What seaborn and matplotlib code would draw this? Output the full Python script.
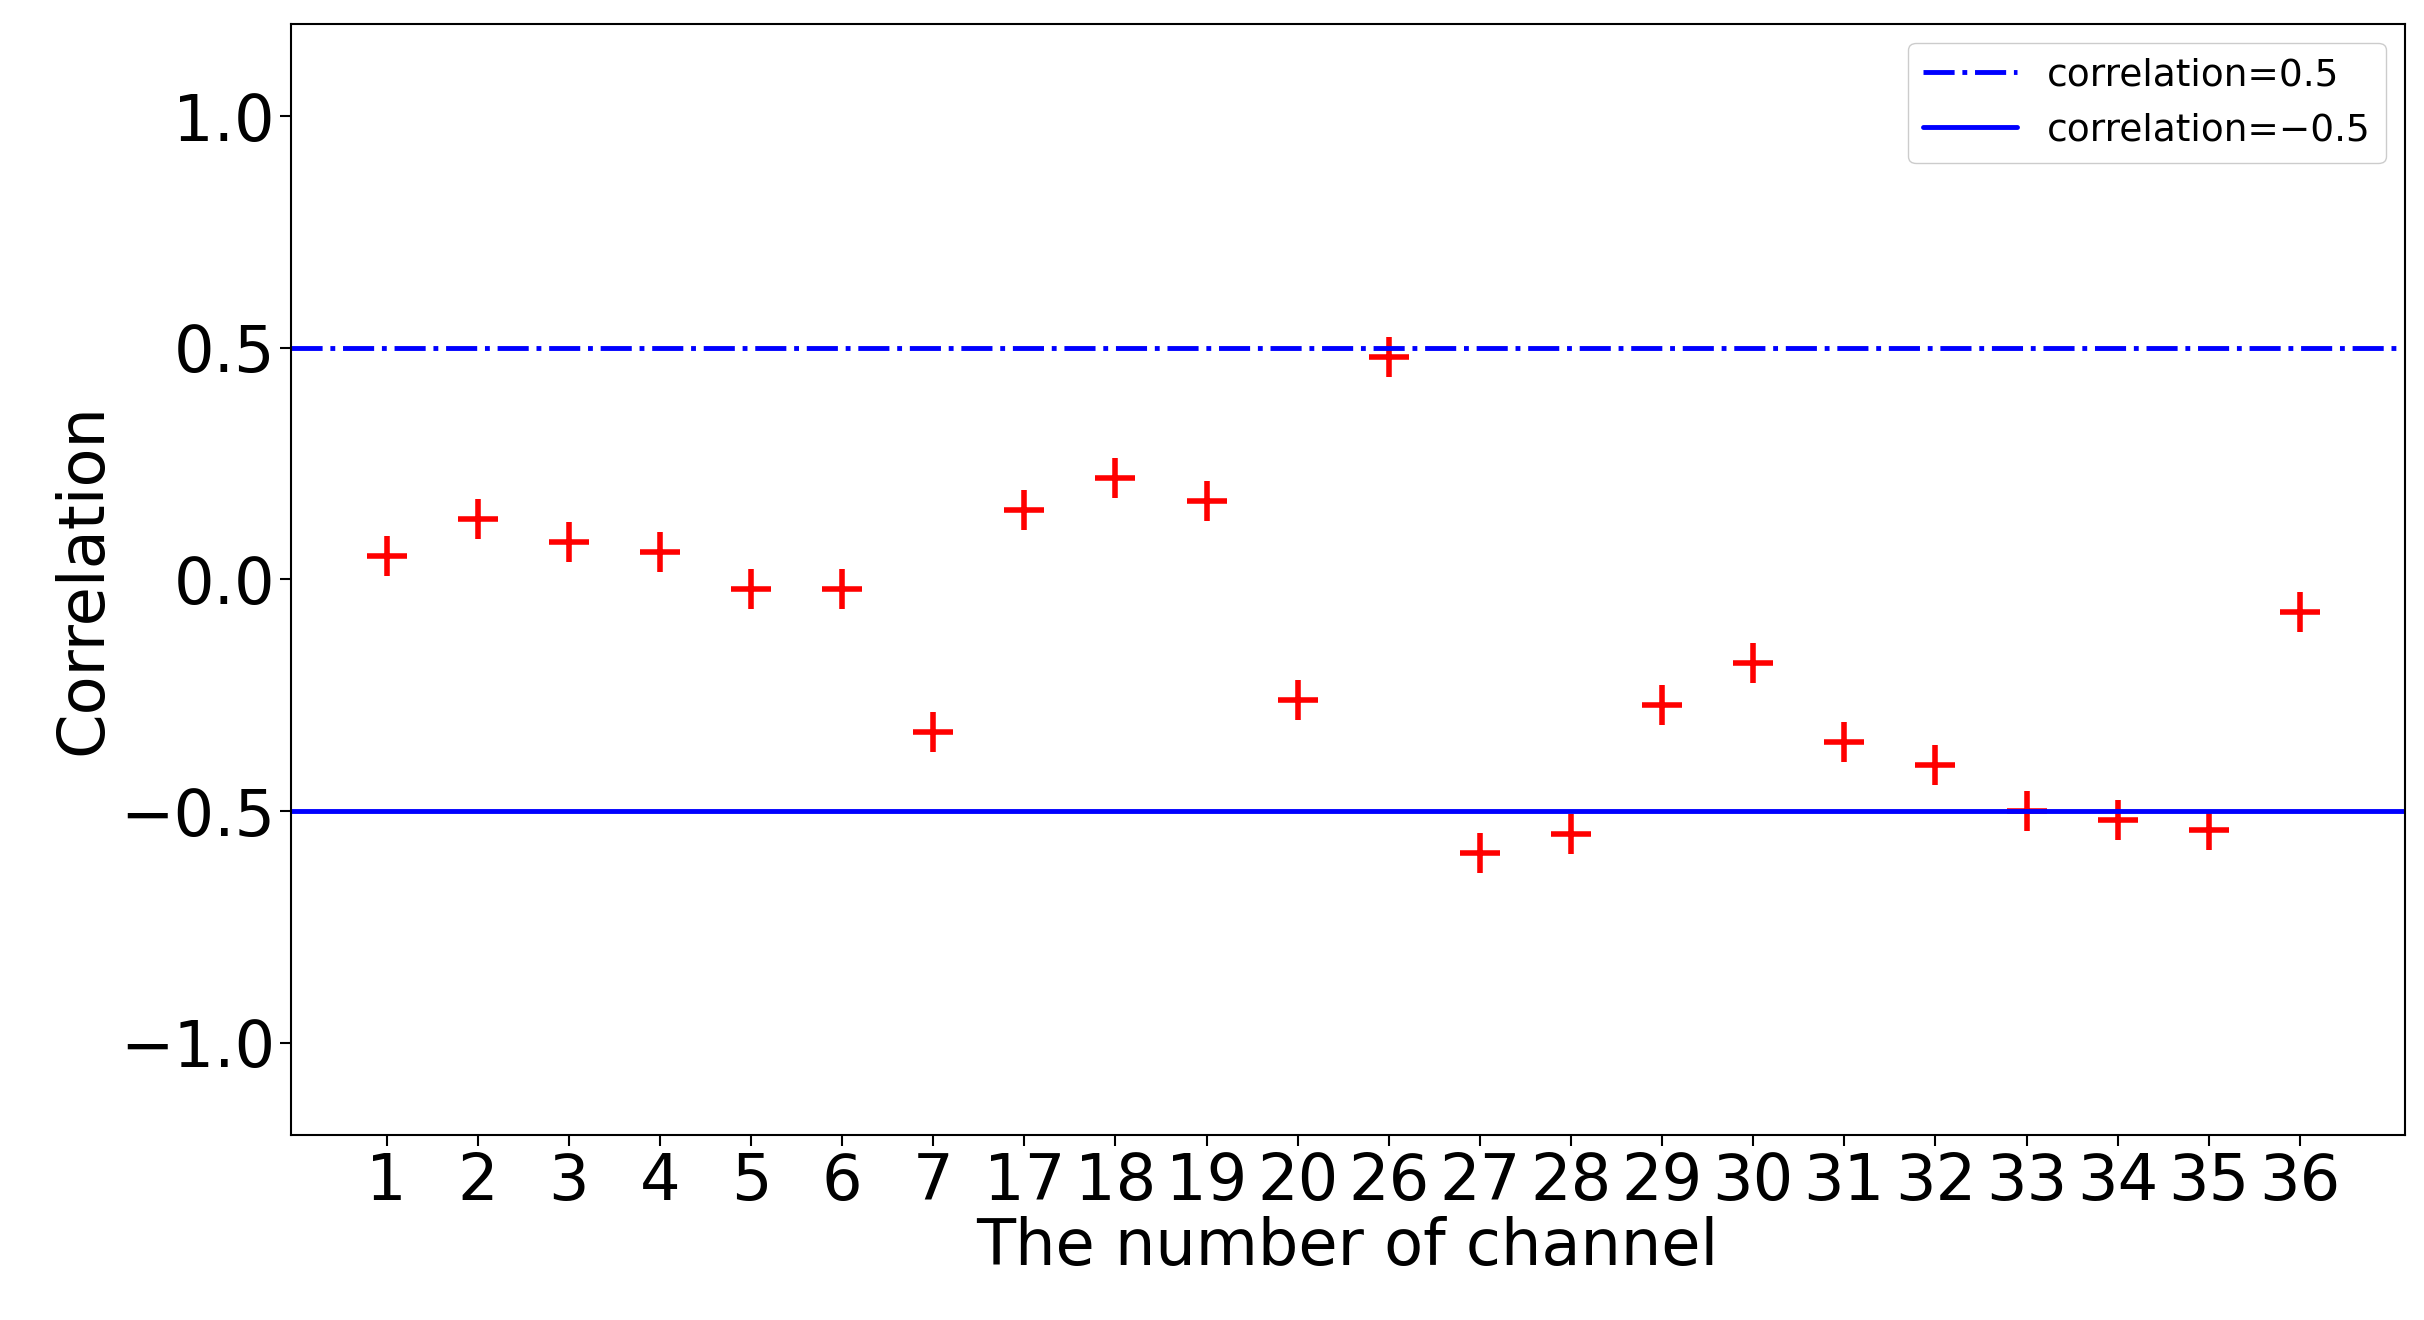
import matplotlib
matplotlib.use('Agg')
import matplotlib.pyplot as plt
import seaborn as sns
import pandas as pd

channels = ['1', '2', '3', '4', '5', '6', '7', '17', '18', '19', '20', '26',
            '27', '28', '29', '30', '31', '32', '33', '34', '35', '36']
correlation = [0.05, 0.13, 0.08, 0.06, -0.02, -0.02, -0.33, 0.15, 0.22, 0.17, -0.26, 0.48,
               -0.59, -0.55, -0.27, -0.18, -0.35, -0.40, -0.50, -0.52, -0.54, -0.07]

df = pd.DataFrame({'pos': range(len(channels)), 'corr': correlation})

sns.set_style('ticks')
plt.rcParams['font.family'] = ['DejaVu Sans']
plt.rcParams['text.color'] = 'black'
plt.rcParams['axes.labelcolor'] = 'black'
plt.rcParams['xtick.color'] = 'black'
plt.rcParams['ytick.color'] = 'black'
plt.rcParams['axes.edgecolor'] = 'black'

fig = plt.figure(figsize=(24.24, 13.2), dpi=100)
ax = fig.add_axes([0.12, 0.14, 0.872, 0.842])

ax.axhline(0.5, color='blue', linestyle='-.', linewidth=3.5, label='correlation=0.5')
ax.axhline(-0.5, color='blue', linestyle='-', linewidth=3.5, label='correlation=\u22120.5')
sns.scatterplot(data=df, x='pos', y='corr', marker='+', color='red', s=800,
                linewidth=4, ax=ax, legend=False)

ax.set_xticks(range(len(channels)))
ax.set_xticklabels(channels)
ax.set_xlim(-1.05, 22.15)
ax.set_ylim(-1.2, 1.2)
ax.set_yticks([-1.0, -0.5, 0.0, 0.5, 1.0])
ax.tick_params(labelsize=46, length=8, width=1.5)
ax.set_xlabel('The number of channel', fontsize=46, labelpad=2)
ax.set_ylabel('Correlation', fontsize=46, labelpad=4)
for s in ax.spines.values():
    s.set_visible(True)
    s.set_linewidth(1.5)
ax.legend(loc='upper right', fontsize=27, handlelength=2.5, framealpha=1)

fig.savefig('out.png', dpi=100)
